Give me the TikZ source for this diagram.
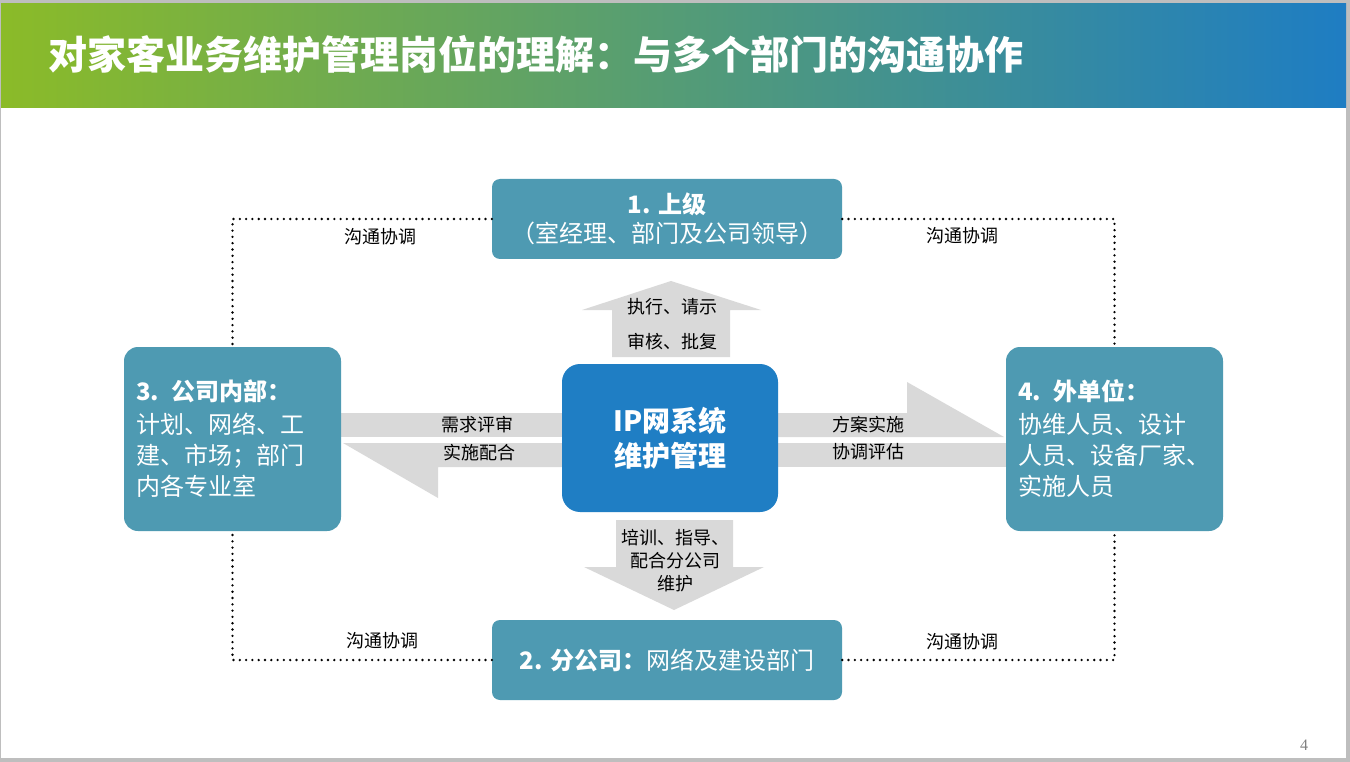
\documentclass[tikz,border=0pt]{standalone}
\usepackage{fontspec}
\setmainfont{Noto Sans CJK SC}
\newfontfamily\pagefont{Liberation Serif}
\usepackage{tikz}
\usetikzlibrary{calc,backgrounds}

\definecolor{barleft}{RGB}{139,187,40}
\definecolor{barright}{RGB}{30,125,195}
\definecolor{partyteal}{RGB}{78,154,178}
\definecolor{hubblue}{RGB}{31,126,196}
\definecolor{fatgray}{RGB}{217,217,217}
\definecolor{edgegray}{RGB}{190,190,190}

\begin{document}
\begin{tikzpicture}[
        x=1pt, y=-1pt,
        party/.style={
            fill=partyteal,
            rounded corners=8pt,
            text=white,
            align=center,
            inner sep=0pt
        },
        hub/.style={
            fill=hubblue,
            rounded corners=18pt,
            text=white,
            align=center,
            font=\fontsize{28}{35}\selectfont\bfseries,
            minimum width=216pt,
            minimum height=148pt
        },
        fatarrow/.style={
            fill=fatgray,
            draw=none
        },
        tag/.style={
            font=\fontsize{18}{23}\selectfont,
            align=center,
            inner sep=0pt
        },
        dotline/.style={
            line width=2.6pt,
            line cap=round,
            dash pattern=on 0pt off 6.3pt
        }
    ]
        \useasboundingbox (0,0) rectangle (1350,762);

        % title
        \node[anchor=west, text=white, inner sep=0pt,
              font=\fontsize{39}{39}\selectfont\bfseries] (title) at (48,54)
              {对家客业务维护管理岗位的理解：与多个部门的沟通协作};

        % parties
        \node[party, minimum width=350pt, minimum height=80pt,
              font=\fontsize{24}{29}\selectfont] (boss) at (667,219)
              {\textbf{1. 上级}\\（室经理、部门及公司领导）};
        \node[party, minimum width=350pt, minimum height=80pt,
              font=\fontsize{24}{29}\selectfont] (branch) at (667,660)
              {\textbf{2. 分公司：}网络及建设部门};
        \node[party, minimum width=217pt, minimum height=184pt, rounded corners=14pt,
              align=left, text width=193pt, inner xsep=12pt,
              font=\fontsize{24}{31}\selectfont] (inner) at (232.5,439)
              {\textbf{3. 公司内部：}\\[2pt]计划、网络、工\\建、市场；部门\\内各专业室};
        \node[party, minimum width=217pt, minimum height=184pt, rounded corners=14pt,
              align=left, text width=193pt, inner xsep=12pt,
              font=\fontsize{24}{31}\selectfont] (outer) at (1114.5,439)
              {\textbf{4. 外单位：}\\[2pt]协维人员、设计\\人员、设备厂家、\\实施人员};
        \node[hub] (core) at (670,438) {IP网系统\\维护管理};

        % page and fat arrows, behind the nodes
        \begin{scope}[on background layer]
            \fill[edgegray] (0,0) rectangle (1350,762);
            \fill[white] (1,4) rectangle (1346,758);
            \shade[left color=barleft, right color=barright] (1,4) rectangle (1346,108);

            \fill[fatarrow] (612,357) -- (612,310) -- (582,310) -- (671,281)
                -- (761,310) -- (730,310) -- (730,357) -- cycle;
            \fill[fatarrow] (616,520) -- (733,520) -- (733,567) -- (764,567)
                -- (674,610) -- (584,567) -- (616,567) -- cycle;
            \fill[fatarrow] (inner.east |- 0,413) rectangle (core.west |- 0,437);
            \fill[fatarrow] (core.west |- 0,443) -- (343,443) -- (438,498)
                -- (438,467) -- (core.west |- 0,467) -- cycle;
            \fill[fatarrow] (core.east |- 0,413) -- (907,413) -- (907,382)
                -- (1004,437) -- (core.east |- 0,437) -- cycle;
            \fill[fatarrow] (core.east |- 0,443) rectangle (outer.west |- 0,467);
        \end{scope}

        % arrow labels
        \node[tag] (upa) at (672,307) {执行、请示};
        \node[tag] (upb) at (672,342) {审核、批复};
        \node[tag] (downa) at (675,561) {培训、指导、\\配合分公司\\维护};
        \node[tag] (lefta) at (477,425) {需求评审};
        \node[tag] (leftb) at (479,453) {实施配合};
        \node[tag] (righta) at (868,425) {方案实施};
        \node[tag] (rightb) at (868,452) {协调评估};

        % dotted frame
        \draw[dotline] (boss.west) -| (inner.north);
        \draw[dotline] (boss.east) -| (outer.north);
        \draw[dotline] (branch.west) -| (inner.south);
        \draw[dotline] (branch.east) -| (outer.south);

        \node[tag] (talk1) at (380,237) {沟通协调};
        \node[tag] (talk2) at (962,236) {沟通协调};
        \node[tag] (talk3) at (382,641) {沟通协调};
        \node[tag] (talk4) at (962,642) {沟通协调};

        \node[text=gray, font=\pagefont\fontsize{16}{16}\selectfont] (pageno) at (1304,745) {4};
    \end{tikzpicture}
\end{document}
